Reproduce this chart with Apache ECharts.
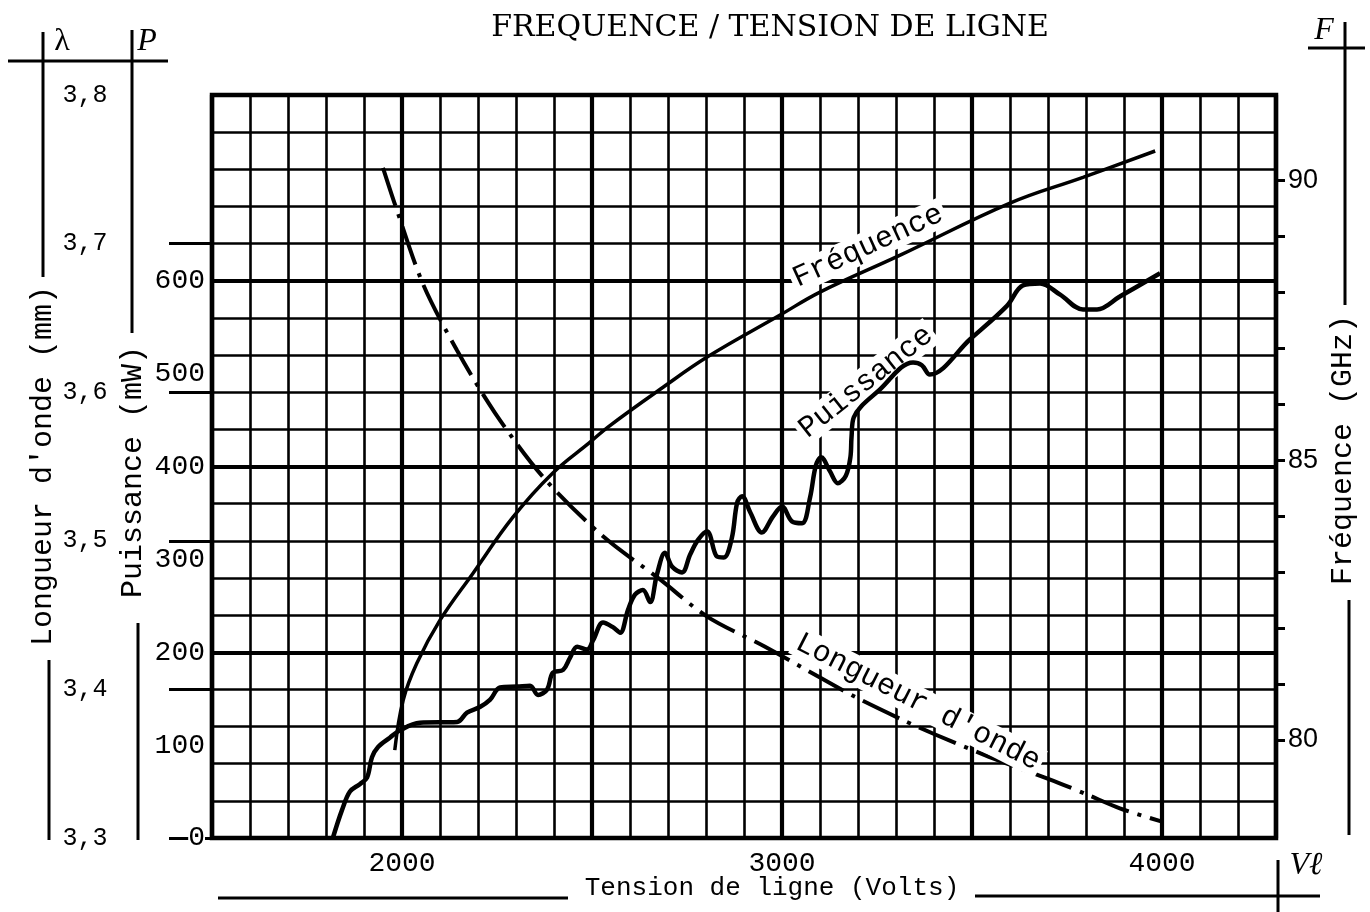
<!DOCTYPE html>
<html>
<head>
<meta charset="utf-8">
<script src="https://cdn.jsdelivr.net/npm/echarts@6/dist/echarts.min.js"></script>
<style>
html,body{margin:0;padding:0;background:#fff;}
#c{width:1370px;height:912px;}
</style>
</head>
<body>
<div id="c"></div>
<script>
// ---- Data ----
const voltF   = [1981, 2003, 2039, 2100, 2187, 2292, 2397, 2495, 2542, 2687, 2803, 2995, 3100, 3311, 3600, 3792, 3982];
const freqGHz = [79.82, 80.71, 81.37, 82.14, 82.98, 83.98, 84.77, 85.32, 85.59, 86.30, 86.84, 87.59, 88.00, 88.66, 89.59, 90.05, 90.52];

const voltP = [1818, 1842, 1863, 1889, 1908, 1921, 1937, 1968, 1995, 2047, 2145, 2171, 2205, 2232, 2258, 2303, 2337, 2358, 2382, 2397,
               2424, 2442, 2461, 2487, 2503, 2529, 2555, 2574, 2595, 2613, 2634, 2653, 2671, 2692, 2711, 2737, 2758, 2779, 2803, 2829,
               2847, 2868, 2882, 2895, 2916, 2947, 2976, 3000, 3026, 3053, 3074, 3089, 3103, 3126, 3147, 3168, 3180, 3183, 3189, 3258,
               3345, 3368, 3389, 3495, 3592, 3634, 3679, 3732, 3792, 3829, 3889, 3995];
const powerMW = [0, 30, 50, 58, 65, 87, 98, 108, 116, 124, 125, 135, 141, 149, 162, 163, 164, 154, 160, 178,
                 181, 194, 206, 203, 213, 232, 227, 221, 246, 262, 267, 254, 284, 307, 292, 286, 305, 321, 330, 303,
                 302, 323, 361, 368, 351, 329, 346, 357, 341, 339, 367, 401, 410, 395, 382, 390, 410, 432, 453, 483,
                 512, 509, 499, 537, 573, 595, 597, 585, 569, 569, 583, 608];

const voltL    = [1950, 1982, 2055, 2145, 2245, 2371, 2529, 2679, 2803, 2953, 3100, 3192, 3321, 3400, 3532, 3603, 3729, 3805, 3889, 4000];
const lambdaMM = [3.751, 3.726, 3.673, 3.628, 3.586, 3.543, 3.503, 3.474, 3.449, 3.429, 3.408, 3.395, 3.379, 3.370, 3.356, 3.349, 3.337, 3.329, 3.320, 3.311];

const xLabels = [2000, 3000, 4000];
const pLabels = [0, 100, 200, 300, 400, 500, 600];
const fTicks = [80, 81, 82, 83, 84, 85, 86, 87, 88, 89, 90];
const fLabels = [80, 85, 90];
const lTicks = [3.3, 3.4, 3.5, 3.6, 3.7];

const zip = (a, b) => a.map((v, i) => [v, b[i]]);

const MONO = '"Liberation Mono", "DejaVu Sans Mono", monospace';
const SERIF = '"Liberation Serif", "DejaVu Serif", serif';
const TSERIF = '"DejaVu Serif", "Liberation Serif", serif';
const INK = '#000';

const chart = echarts.init(document.getElementById('c'), null, {renderer: 'canvas'});

function ln(x1, y1, x2, y2, w) {
  return {type: 'line', z: 50, shape: {x1, y1, x2, y2}, style: {stroke: INK, lineWidth: w || 3}};
}
function txt(x, y, text, opts) {
  opts = opts || {};
  return {
    type: 'text', z: 60, x, y, rotation: opts.rot || 0,
    style: Object.assign({
      text, fill: INK, font: (opts.style ? opts.style + ' ' : '') + (opts.size || 26) + 'px ' + (opts.family || MONO),
      align: 'center', verticalAlign: 'middle'
    }, opts.bg ? {backgroundColor: '#fff', padding: opts.pad || [0, 3]} : {})
  };
}

const option = {
  backgroundColor: '#fff',
  animation: false,
  grid: {left: 212, top: 95, right: 94, bottom: 74, show: true, borderColor: INK, borderWidth: 4.5, backgroundColor: 'transparent'},
  xAxis: [
    {type: 'value', min: 1500, max: 4300, interval: 100,
     axisLine: {show: false}, axisTick: {show: false},
     splitLine: {show: true, lineStyle: {color: INK, width: 2.6}},
     axisLabel: {color: INK, fontFamily: MONO, fontSize: 28, margin: 12,
                 formatter: v => xLabels.indexOf(v) >= 0 ? String(v) : ''}},
    {type: 'value', min: 1500, max: 4300, interval: 500, position: 'bottom',
     axisLine: {show: false}, axisTick: {show: false}, axisLabel: {show: false},
     splitLine: {show: true, lineStyle: {color: INK, width: 4.2}}}
  ],
  yAxis: [
    // 0: Puissance (mW)
    {type: 'value', min: 0, max: 800, interval: 100, position: 'left', offset: 0,
     axisLine: {show: false}, axisTick: {show: false}, splitLine: {show: false},
     axisLabel: {color: INK, fontFamily: MONO, fontSize: 28, margin: 7, backgroundColor: '#fff',
                 formatter: v => pLabels.indexOf(v) >= 0 ? String(v) : ''}},
    // 1: minor grid
    {type: 'value', min: 0, max: 800, interval: 40, position: 'left',
     axisLine: {show: false}, axisTick: {show: false}, axisLabel: {show: false},
     splitLine: {show: true, lineStyle: {color: INK, width: 2.6}}},
    // 2: major grid
    {type: 'value', min: 0, max: 800, interval: 200, position: 'left',
     axisLine: {show: false}, axisTick: {show: false}, axisLabel: {show: false},
     splitLine: {show: true, lineStyle: {color: INK, width: 4.2}}},
    // 3: Longueur d'onde (mm)
    {type: 'value', min: 3.3, max: 3.8, interval: 0.1, position: 'left', offset: 0,
     axisLine: {show: false}, splitLine: {show: false},
     axisTick: {show: true, inside: false, length: 43, customValues: lTicks, lineStyle: {color: INK, width: 3}},
     axisLabel: {color: INK, fontFamily: MONO, fontSize: 25, margin: 127, align: 'center',
                 formatter: v => v.toFixed(1).replace('.', ',')}},
    // 4: Fréquence (GHz)
    {type: 'value', min: 78.25, max: 91.52, position: 'right', offset: 0,
     axisLine: {show: false}, splitLine: {show: false},
     axisTick: {show: true, inside: false, length: 9, customValues: fTicks, lineStyle: {color: INK, width: 3}},
     axisLabel: {color: INK, fontFamily: '"Liberation Sans", Arial, sans-serif', fontSize: 27, margin: 12,
                 customValues: fLabels, formatter: v => String(Math.round(v))}}
  ],
  series: [
    {name: 'Fréquence', type: 'line', xAxisIndex: 0, yAxisIndex: 4, data: zip(voltF, freqGHz),
     smooth: 0.4, showSymbol: false, lineStyle: {color: INK, width: 3.5}, z: 70},
    {name: 'Puissance', type: 'line', xAxisIndex: 0, yAxisIndex: 0, data: zip(voltP, powerMW),
     smooth: 0.35, showSymbol: false, lineStyle: {color: INK, width: 4.5}, z: 70},
    {name: "Longueur d'onde", type: 'line', xAxisIndex: 0, yAxisIndex: 3, data: zip(voltL, lambdaMM),
     smooth: 0.3, showSymbol: false, lineStyle: {color: INK, width: 4, type: [40, 9, 4, 9]}, z: 10}
  ],
  graphic: [
    // title
    txt(770, 28, 'FREQUENCE / TENSION DE LIGNE', {family: TSERIF, size: 30}),
    // left header table
    ln(8, 61, 168, 61),
    ln(43, 32, 43, 277),
    ln(49, 660, 49, 840),
    ln(132, 30, 132, 333),
    ln(138, 623, 138, 840),
    txt(62, 42, 'λ', {family: SERIF, size: 32}),
    txt(147, 42, 'P', {family: SERIF, size: 32, style: 'italic'}),
    txt(43, 466, "Longueur d'onde (mm)", {size: 30, rot: Math.PI / 2}),
    txt(133, 472, 'Puissance (mW)', {size: 30, rot: Math.PI / 2}),
    // right header
    ln(1308, 48, 1365, 48),
    ln(1345, 22, 1345, 305),
    ln(1349, 600, 1349, 835),
    txt(1324, 31, 'F', {family: SERIF, size: 32, style: 'italic'}),
    txt(1343, 450, 'Fréquence (GHz)', {size: 30, rot: Math.PI / 2}),
    // bottom
    ln(218, 898, 568, 898),
    ln(975, 896, 1320, 896),
    ln(1278, 860, 1278, 912),
    txt(772, 888, 'Tension de ligne (Volts)', {size: 26}),
    txt(1306, 866, 'Vℓ', {family: SERIF, size: 32, style: 'italic'}),
    // curve labels
    txt(868, 246, 'Fréquence', {size: 30, rot: 0.43, bg: true}),
    txt(866, 382, 'Puissance', {size: 30, rot: 0.67, bg: true}),
    txt(918, 702, "Longueur d'onde", {size: 30, rot: -0.47, bg: true})
  ]
};
chart.setOption(option);
</script>
</body>
</html>
